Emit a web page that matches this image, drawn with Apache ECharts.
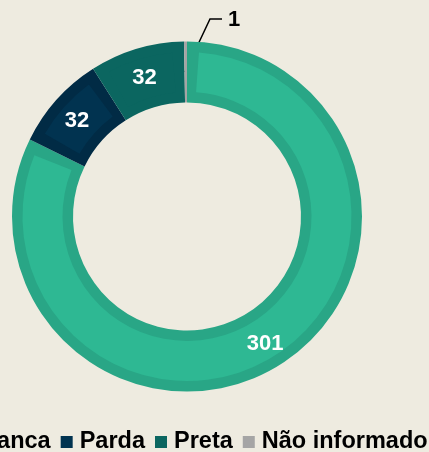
<!DOCTYPE html>
<html>
<head>
<meta charset="utf-8">
<script src="https://cdn.jsdelivr.net/npm/echarts@6/dist/echarts.min.js"></script>
<style>
  html, body { margin: 0; padding: 0; background: #EEEBE0; }
  #chart { width: 429px; height: 452px; }
</style>
</head>
<body>
<div id="chart"></div>
<script>
// data
var categories = ['Branca', 'Parda', 'Preta', 'Não informado'];
var values = [301, 32, 32, 1];
var fillColors = ['#2EB893', '#013350', '#0B6660', '#A5A5A5'];
var edgeColors = ['#29A686', '#012B45', '#0B6660', '#A5A5A5'];

var cx = 187, cy = 216.5, rOut = 175, rIn = 114, edge = 10.5;
var font = '"Liberation Sans", Arial, sans-serif';

var total = values.reduce(function (a, b) { return a + b; }, 0);
// gap (in value units) so the inset is about `edge` px wide at mid radius
var padVal = edge / ((rIn + rOut) / 2) * 180 / Math.PI / 360 * total;

var myChart = echarts.init(document.getElementById('chart'));

// inner lighter ring: every slice shrunk by a transparent spacer on each side
var innerData = [];
categories.forEach(function (name, i) {
  if (values[i] <= 2 * padVal) {
    innerData.push({ name: name, value: values[i], itemStyle: { color: 'rgba(0,0,0,0)' }, label: { show: false } });
    return;
  }
  innerData.push({ name: '', value: padVal, itemStyle: { color: 'rgba(0,0,0,0)' }, label: { show: false } });
  innerData.push({ name: name, value: values[i] - 2 * padVal, raw: values[i], itemStyle: { color: fillColors[i] } });
  innerData.push({ name: '', value: padVal, itemStyle: { color: 'rgba(0,0,0,0)' }, label: { show: false } });
});

// full ring in the darker edge colour
var outerData = categories.map(function (name, i) {
  var item = { name: name, value: values[i], itemStyle: { color: edgeColors[i] } };
  if (i === 3) {
    item.label = {
      show: true, position: 'outside', color: '#000',
      fontSize: 22, fontWeight: 'bold', fontFamily: font
    };
    item.labelLine = { show: true, lineStyle: { color: '#000', width: 1.5 } };
  }
  return item;
});

var option = {
  backgroundColor: '#EEEBE0',
  animation: false,
  legend: {
    data: categories.map(function (name, i) {
      return { name: name, itemStyle: { color: fillColors[i] } };
    }),
    left: -48,
    top: 430,
    padding: 0,
    itemWidth: 12,
    itemHeight: 12,
    itemGap: 10,
    icon: 'rect',
    textStyle: { color: '#000', fontSize: 23.5, fontWeight: 'bold', fontFamily: font, padding: [0, 0, 0, 2] }
  },
  series: [
    {
      name: 'outer',
      type: 'pie',
      z: 2,
      center: [cx, cy],
      radius: [rIn, rOut],
      startAngle: 90,
      clockwise: true,
      silent: true,
      data: outerData,
      label: { show: false, formatter: '{c}' },
      labelLine: { show: false },
      labelLayout: function (params) {
        if (params.dataIndex !== 3) return {};
        var rMid = (rIn + rOut) / 2;
        return {
          x: cx + 41,
          y: cy - 197,
          align: 'left',
          verticalAlign: 'middle',
          labelLinePoints: [[cx - 2, cy - rMid], [cx + 23, cy - 197.5], [cx + 35, cy - 197.5]]
        };
      }
    },
    {
      name: 'inner',
      type: 'pie',
      z: 3,
      center: [cx, cy],
      radius: [rIn + edge, rOut - edge],
      startAngle: 90,
      clockwise: true,
      silent: true,
      data: innerData,
      label: {
        show: true,
        position: 'inside',
        color: '#fff',
        fontSize: 22,
        fontWeight: 'bold',
        fontFamily: font,
        offset: [0, 2.5],
        formatter: function (p) { return p.data.raw; }
      },
      labelLine: { show: false }
    }
  ]
};

myChart.setOption(option);
</script>
</body>
</html>
